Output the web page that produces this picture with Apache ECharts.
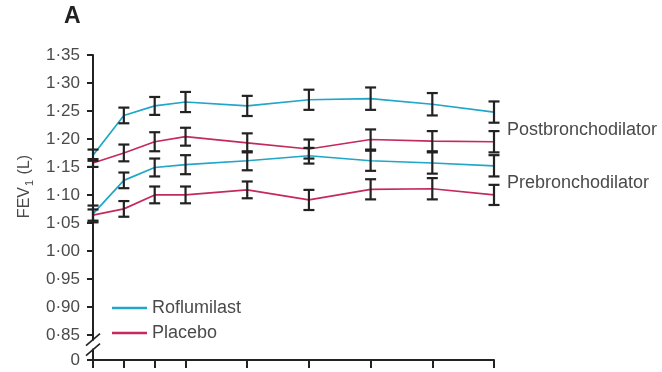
<!DOCTYPE html>
<html>
<head>
<meta charset="utf-8">
<title>FEV1 over time</title>
<script src="https://cdn.jsdelivr.net/npm/echarts@6/dist/echarts.min.js"></script>
<style>
  html, body { margin: 0; padding: 0; background: #fff; }
  #chart { width: 662px; height: 372px; }
</style>
</head>
<body>
<div id="chart"></div>
<script>
// Study weeks at which FEV1 was measured
const weeks = [0, 4, 8, 12, 20, 28, 36, 44, 52];

// Post-bronchodilator FEV1 (L), mean and error half-width
const rofPost    = [1.171, 1.242, 1.259, 1.266, 1.259, 1.270, 1.272, 1.262, 1.248];
const rofPostErr = [0.010, 0.014, 0.016, 0.018, 0.018, 0.018, 0.020, 0.020, 0.019];
const plaPost    = [1.157, 1.175, 1.195, 1.204, 1.193, 1.182, 1.199, 1.196, 1.195];
const plaPostErr = [0.007, 0.015, 0.017, 0.016, 0.017, 0.017, 0.018, 0.018, 0.019];

// Pre-bronchodilator FEV1 (L), mean and error half-width
const rofPre     = [1.066, 1.126, 1.149, 1.154, 1.161, 1.170, 1.161, 1.157, 1.152];
const rofPreErr  = [0.015, 0.014, 0.016, 0.017, 0.017, 0.014, 0.018, 0.019, 0.019];
const plaPre     = [1.064, 1.075, 1.100, 1.100, 1.109, 1.091, 1.110, 1.111, 1.100];
const plaPreErr  = [0.010, 0.014, 0.015, 0.015, 0.015, 0.018, 0.018, 0.019, 0.018];

// Y axis: broken axis, the lowest tick stands for zero
const yTickValues = [0.805, 0.85, 0.90, 0.95, 1.00, 1.05, 1.10, 1.15, 1.20, 1.25, 1.30, 1.35];
const yTickLabels = ['0', '0·85', '0·90', '0·95', '1·00', '1·05', '1·10', '1·15', '1·20', '1·25', '1·30', '1·35'];

const CYAN = '#1fa6c9';
const RED = '#c42a5c';
const INK = '#222';
const TEXT = '#4a4a4a';
const FONT = '"Liberation Sans", Arial, sans-serif';

const chart = echarts.init(document.getElementById('chart'));

function pairs(vals) { return weeks.map((w, i) => [w, vals[i]]); }
function errPairs(vals, errs) { return weeks.map((w, i) => [w, vals[i] - errs[i], vals[i] + errs[i]]); }

function renderErr(params, api) {
  const x = api.value(0);
  const top = api.coord([x, api.value(2)]);
  const bot = api.coord([x, api.value(1)]);
  const w = 5.5;
  const style = { stroke: INK, lineWidth: 2.2 };
  return {
    type: 'group',
    children: [
      { type: 'line', shape: { x1: top[0], y1: top[1], x2: bot[0], y2: bot[1] }, style },
      { type: 'line', shape: { x1: top[0] - w, y1: top[1], x2: top[0] + w, y2: top[1] }, style },
      { type: 'line', shape: { x1: bot[0] - w, y1: bot[1], x2: bot[0] + w, y2: bot[1] }, style }
    ]
  };
}

function lineSeries(name, color, vals) {
  return {
    name, type: 'line', data: pairs(vals), symbol: 'none', z: 2,
    lineStyle: { color, width: 1.7 }, itemStyle: { color },
    animation: false
  };
}
function errSeries(name, vals, errs) {
  return {
    name, type: 'custom', data: errPairs(vals, errs), renderItem: renderErr,
    encode: { x: 0, y: [1, 2] }, z: 5, animation: false, silent: true
  };
}

function yLabel(v) {
  const i = yTickValues.findIndex(t => Math.abs(t - v) < 1e-6);
  return i >= 0 ? yTickLabels[i] : '';
}

chart.setOption({
  animation: false,
  grid: { left: 93, right: 168, top: 55, bottom: 12 },
  xAxis: {
    type: 'value', min: 0, max: 52,
    axisLine: { show: true, onZero: false, lineStyle: { color: INK, width: 2 } },
    axisTick: { show: true, customValues: weeks, length: 8, lineStyle: { color: INK, width: 2 } },
    axisLabel: { show: false },
    splitLine: { show: false }
  },
  yAxis: {
    type: 'value', min: 0.805, max: 1.35,
    axisLine: { show: true, lineStyle: { color: INK, width: 2 } },
    axisTick: { show: true, customValues: yTickValues, length: 6, lineStyle: { color: INK, width: 2 } },
    axisLabel: {
      customValues: yTickValues, formatter: yLabel, margin: 13,
      color: TEXT, fontSize: 17, fontFamily: FONT
    },
    splitLine: { show: false }
  },
  legend: {
    data: ['Roflumilast', 'Placebo'],
    orient: 'vertical', left: 107, top: 293,
    icon: 'rect', itemWidth: 35, itemHeight: 2.5, itemGap: 5,
    textStyle: { color: TEXT, fontSize: 18, fontFamily: FONT, lineHeight: 20 }
  },
  series: [
    lineSeries('Roflumilast', CYAN, rofPost),
    lineSeries('Placebo', RED, plaPost),
    lineSeries('Roflumilast', CYAN, rofPre),
    lineSeries('Placebo', RED, plaPre),
    errSeries('rofPostErr', rofPost, rofPostErr),
    errSeries('plaPostErr', plaPost, plaPostErr),
    errSeries('rofPreErr', rofPre, rofPreErr),
    errSeries('plaPreErr', plaPre, plaPreErr)
  ]
});

// Annotations: panel letter, axis title, curve group labels and the axis break
const brk = chart.convertToPixel({ gridIndex: 0 }, [0, 0.8325]);
const post = chart.convertToPixel({ gridIndex: 0 }, [52, 1.216]);
const pre = chart.convertToPixel({ gridIndex: 0 }, [52, 1.121]);
const mid = chart.convertToPixel({ gridIndex: 0 }, [0, 1.115]);

chart.setOption({
  graphic: [
    { type: 'text', left: 64, top: 5, style: { text: 'A', fontSize: 23, fontWeight: 600, fill: '#222', fontFamily: FONT } },
    {
      type: 'text', x: 25, y: mid[1], rotation: Math.PI / 2,
      style: {
        text: 'FEV{sub|1} (L)', fontSize: 16, fill: TEXT, fontFamily: FONT,
        align: 'center', verticalAlign: 'middle',
        rich: { sub: { fontSize: 11, fill: TEXT, fontFamily: FONT, padding: [9, 1, 0, 1] } }
      }
    },
    { type: 'text', x: post[0] + 13, y: post[1], style: { text: 'Postbronchodilator', fontSize: 18, fill: TEXT, fontFamily: FONT, verticalAlign: 'middle' } },
    { type: 'text', x: pre[0] + 13, y: pre[1], style: { text: 'Prebronchodilator', fontSize: 18, fill: TEXT, fontFamily: FONT, verticalAlign: 'middle' } },
    // gap in the axis line between the break strokes
    { type: 'rect', shape: { x: brk[0] - 2, y: brk[1] - 4, width: 4, height: 8 }, style: { fill: '#fff' }, z: 100 },
    { type: 'line', shape: { x1: brk[0] - 7, y1: brk[1] + 1, x2: brk[0] + 7, y2: brk[1] - 11 }, style: { stroke: INK, lineWidth: 1.6 }, z: 101 },
    { type: 'line', shape: { x1: brk[0] - 7, y1: brk[1] + 11, x2: brk[0] + 7, y2: brk[1] - 1 }, style: { stroke: INK, lineWidth: 1.6 }, z: 101 }
  ]
});
</script>
</body>
</html>
